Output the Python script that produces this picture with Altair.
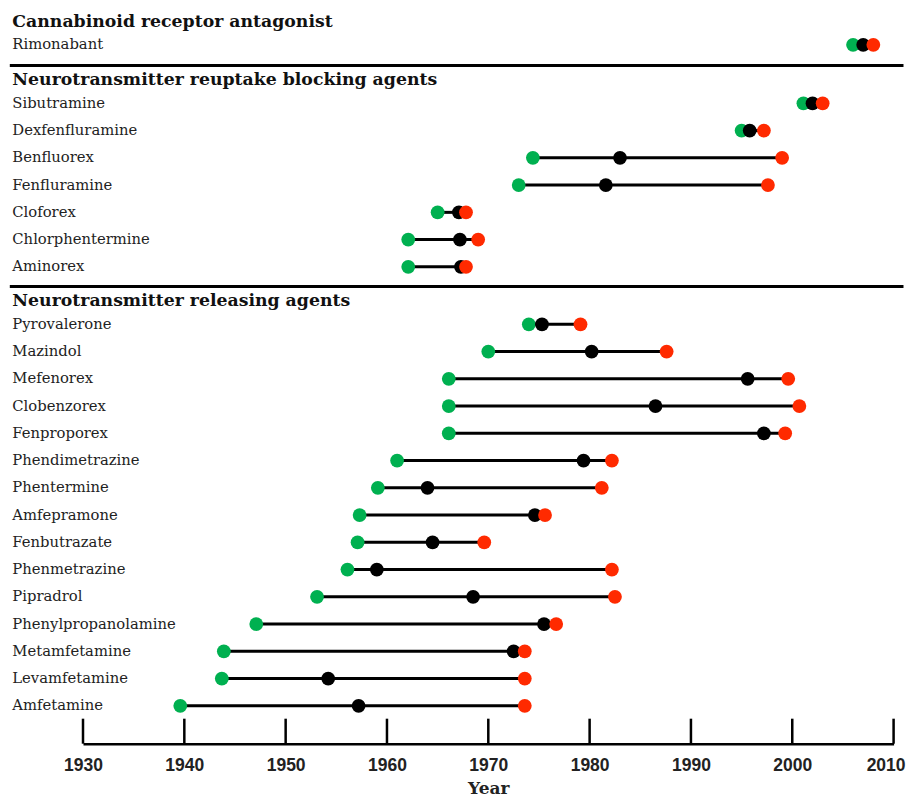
import altair as alt
import pandas as pd

sections = [
    "Cannabinoid receptor antagonist",
    "Neurotransmitter reuptake blocking agents",
    "Neurotransmitter releasing agents",
]
section_drugs = [
    ["Rimonabant"],
    ["Sibutramine", "Dexfenfluramine", "Benfluorex", "Fenfluramine",
     "Cloforex", "Chlorphentermine", "Aminorex"],
    ["Pyrovalerone", "Mazindol", "Mefenorex", "Clobenzorex", "Fenproporex",
     "Phendimetrazine", "Phentermine", "Amfepramone", "Fenbutrazate",
     "Phenmetrazine", "Pipradrol", "Phenylpropanolamine", "Metamfetamine",
     "Levamfetamine", "Amfetamine"],
]
# green (first), black (middle), red (last) years, in the same drug order
green_year = [2006.0,
              2001.1, 1995.0, 1974.4, 1973.0, 1965.0, 1962.1, 1962.1,
              1974.0, 1970.0, 1966.1, 1966.1, 1966.1, 1961.0, 1959.1, 1957.3,
              1957.1, 1956.1, 1953.1, 1947.1, 1943.9, 1943.7, 1939.6]
black_year = [2007.0,
              2002.0, 1995.8, 1983.0, 1981.6, 1967.1, 1967.2, 1967.3,
              1975.3, 1980.2, 1995.6, 1986.5, 1997.2, 1979.4, 1964.0, 1974.6,
              1964.5, 1959.0, 1968.5, 1975.5, 1972.5, 1954.2, 1957.2]
red_year = [2008.0,
            2003.0, 1997.2, 1999.0, 1997.6, 1967.8, 1969.0, 1967.8,
            1979.1, 1987.6, 1999.6, 2000.7, 1999.3, 1982.2, 1981.2, 1975.6,
            1969.6, 1982.2, 1982.5, 1976.7, 1973.6, 1973.6, 1973.6]
tick_years = [1930, 1940, 1950, 1960, 1970, 1980, 1990, 2000, 2010]
series_names = ["first", "middle", "last"]
series_colors = ["#00b050", "#000000", "#ff2a00"]

# ---- layout (style only) ----
section_shift = [-4, 0, 3]      # small vertical gap per section, px
W = 810.6
H = 735.7
LABEL_X = -70.7
SEP_X1, SEP_X2 = -73.2, 820.5

# ---- tables ----
drugs, drug_sec = [], []
row_order = []
for k, (s, group) in enumerate(zip(sections, section_drugs)):
    row_order.append(s)
    row_order.extend(group)
    drugs.extend(group)
    drug_sec.extend([k] * len(group))
row_order.append(" ")  # empty bottom row above the axis

ranges = pd.DataFrame({"row": drugs, "sec": drug_sec,
                       "first": green_year, "last": red_year})
points = pd.concat([
    pd.DataFrame({"row": drugs, "sec": drug_sec, "series": name, "year": vals})
    for name, vals in zip(series_names, [green_year, black_year, red_year])
], ignore_index=True)
labels = pd.DataFrame({"row": drugs, "sec": drug_sec})
headers = pd.DataFrame({"row": sections, "sec": [0, 1, 2]})
separators = pd.DataFrame({"row": sections[1:], "sec": [1, 2]})
ticks = pd.DataFrame({"year": tick_years})

shift_expr = "[" + ",".join(str(v) for v in section_shift) + "][datum.sec]"

yscale = alt.Scale(domain=row_order, paddingInner=0, paddingOuter=0)
xscale = alt.Scale(domain=[1930, 2010], nice=False, zero=False)
xaxis = alt.Axis(values=tick_years, format="d", ticks=False, grid=False,
                 domainColor="black", domainWidth=2.5,
                 labelFont="Liberation Sans", labelFontWeight="bold",
                 labelFontSize=17.5, labelColor="#222222", labelPadding=13,
                 labelFlush=False, labelOverlap=False,
                 labelOffset={"condition": {"test": "datum.value == 2010",
                                            "value": -8}, "value": 0},
                 title="Year", titleFont="DejaVu Serif", titleFontSize=17,
                 titleFontWeight="bold", titleColor="#222222", titlePadding=6)


def X(field):
    return alt.X(field, type="quantitative", scale=xscale, axis=xaxis)


def Y(bp=None):
    if bp is None:
        return alt.Y("row:N", scale=yscale, axis=None)
    return alt.Y("row:N", scale=yscale, axis=None, bandPosition=bp)


lines = alt.Chart(ranges).mark_rule(
    color="black", strokeWidth=3, yOffset=alt.expr(shift_expr)).encode(
    x=X("first"), x2="last", y=Y())

dots = alt.Chart(points).mark_circle(
    size=190, opacity=1, yOffset=alt.expr(shift_expr)).encode(
    x=X("year"), y=Y(),
    color=alt.Color("series:N", scale=alt.Scale(domain=series_names,
                                                range=series_colors),
                    legend=None))

label_text = alt.Chart(labels).mark_text(
    align="left", baseline="alphabetic", font="DejaVu Serif", fontSize=14.8,
    color="#222222", dy=4.5, yOffset=alt.expr(shift_expr)).encode(
    x=alt.value(LABEL_X), y=Y(), text="row:N")

header_text = alt.Chart(headers).mark_text(
    align="left", baseline="alphabetic", font="DejaVu Serif", fontSize=17.3,
    fontWeight="bold", color="#111111", dy=9,
    yOffset=alt.expr(shift_expr)).encode(
    x=alt.value(LABEL_X), y=Y(), text="row:N")

sep_rules = alt.Chart(separators).mark_rule(
    color="black", strokeWidth=3, yOffset=alt.expr(shift_expr + " + 3")).encode(
    x=alt.value(SEP_X1), x2=alt.value(SEP_X2), y=Y(0))

tick_rules = alt.Chart(ticks).mark_rule(color="black", strokeWidth=2.5).encode(
    x=X("year"), y=alt.value(H - 25), y2=alt.value(H))

chart = alt.layer(
    lines, tick_rules, sep_rules, dots, label_text, header_text
).properties(
    width=W, height=H,
    padding={"left": 0, "top": 0, "right": 0, "bottom": 0},
).configure_view(stroke=None)

chart.save("out.html", embed_options={"renderer": "svg", "actions": False})
